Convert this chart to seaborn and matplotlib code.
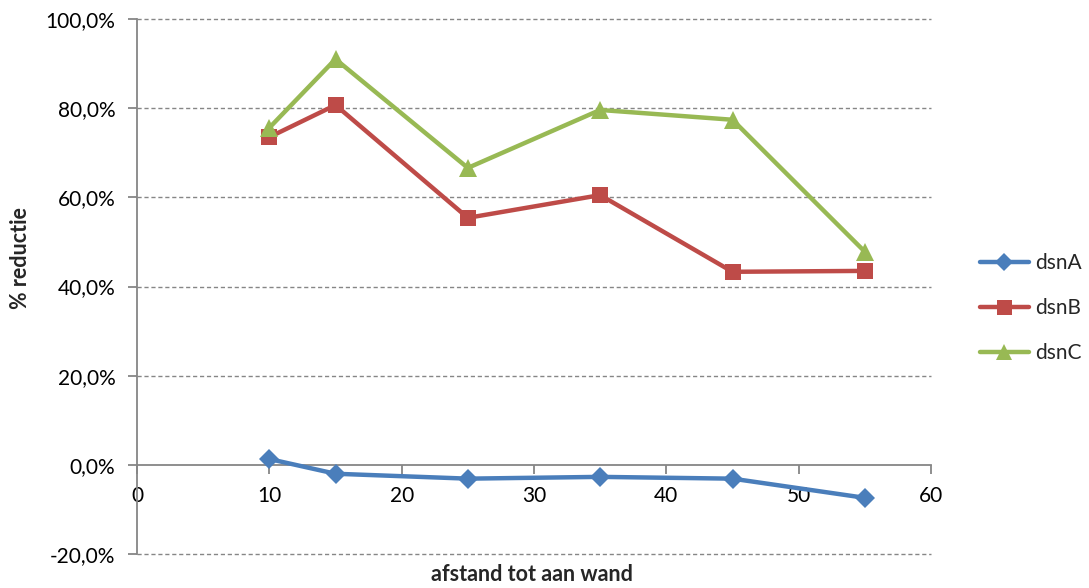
import matplotlib
matplotlib.use("Agg")
import matplotlib.pyplot as plt
from matplotlib.ticker import FuncFormatter, MultipleLocator
import seaborn as sns
import pandas as pd

# distance to the wall and percentage reduction per design
afstand = [10, 15, 25, 35, 45, 55]
dsnA = [1.3, -2.0, -3.1, -2.7, -3.1, -7.4]
dsnB = [73.5, 80.7, 55.4, 60.5, 43.3, 43.5]
dsnC = [75.6, 91.0, 66.6, 79.6, 77.4, 47.8]
series_names = ["dsnA", "dsnB", "dsnC"]

df = pd.DataFrame({
    "afstand": afstand * 3,
    "reductie": dsnA + dsnB + dsnC,
    "serie": [n for n in series_names for _ in afstand],
})

sns.set_theme(style="white")
plt.rcParams["font.family"] = ["Lato", "DejaVu Sans"]

palette = {"dsnA": "#4A7EBB", "dsnB": "#BE4B48", "dsnC": "#98B954"}
markers = {"dsnA": "D", "dsnB": "s", "dsnC": "^"}
msizes = {"dsnA": 10, "dsnB": 12, "dsnC": 13}

fig = plt.figure(figsize=(10.89, 5.88), dpi=100)
ax = fig.add_axes([137 / 1089, 34 / 588, 794 / 1089, 535 / 588])

for name in series_names:
    sub = df[df["serie"] == name]
    sns.lineplot(data=sub, x="afstand", y="reductie", ax=ax, color=palette[name],
                 marker=markers[name], markersize=msizes[name], linewidth=3.2,
                 markeredgewidth=0, label=name, zorder=3)

ax.set_xlim(0, 60)
ax.set_ylim(-20, 100)
ax.xaxis.set_major_locator(MultipleLocator(10))
ax.yaxis.set_major_locator(MultipleLocator(20))
ax.yaxis.set_major_formatter(FuncFormatter(lambda v, p: f"{v:.1f}%".replace(".", ",")))

# dashed horizontal gridlines, solid x-axis at zero
for v in [-20, 20, 40, 60, 80, 100]:
    ax.axhline(v, color="#868686", linestyle=(0, (3, 2)), linewidth=1.0, zorder=1,
               clip_on=False)
ax.spines["bottom"].set_position(("data", 0))
for s in ["top", "right"]:
    ax.spines[s].set_visible(False)
for s in ["bottom", "left"]:
    ax.spines[s].set_color("#868686")
    ax.spines[s].set_linewidth(1.3)
ax.tick_params(axis="both", which="major", length=6.5, width=1.3, color="#868686",
               labelsize=15, labelcolor="black", direction="out",
               bottom=True, left=True)
ax.tick_params(axis="x", pad=9)
ax.tick_params(axis="y", pad=9)

ax.set_xlabel("afstand tot aan wand", fontsize=15.5, fontweight="bold")
ax.set_ylabel("% reductie", fontsize=15.5, fontweight="bold")
ax.xaxis.set_label_coords(0.497, -0.018)
ax.yaxis.set_label_coords(-0.147, 0.553)
ax.yaxis.label.set_va("center")

ax.legend(loc="center left", bbox_to_anchor=(1.038, 0.46), frameon=False,
          fontsize=15, labelspacing=1.2, handlelength=2.35, handletextpad=0.3,
          markerscale=0.9)

fig.savefig("out.png", dpi=100)
